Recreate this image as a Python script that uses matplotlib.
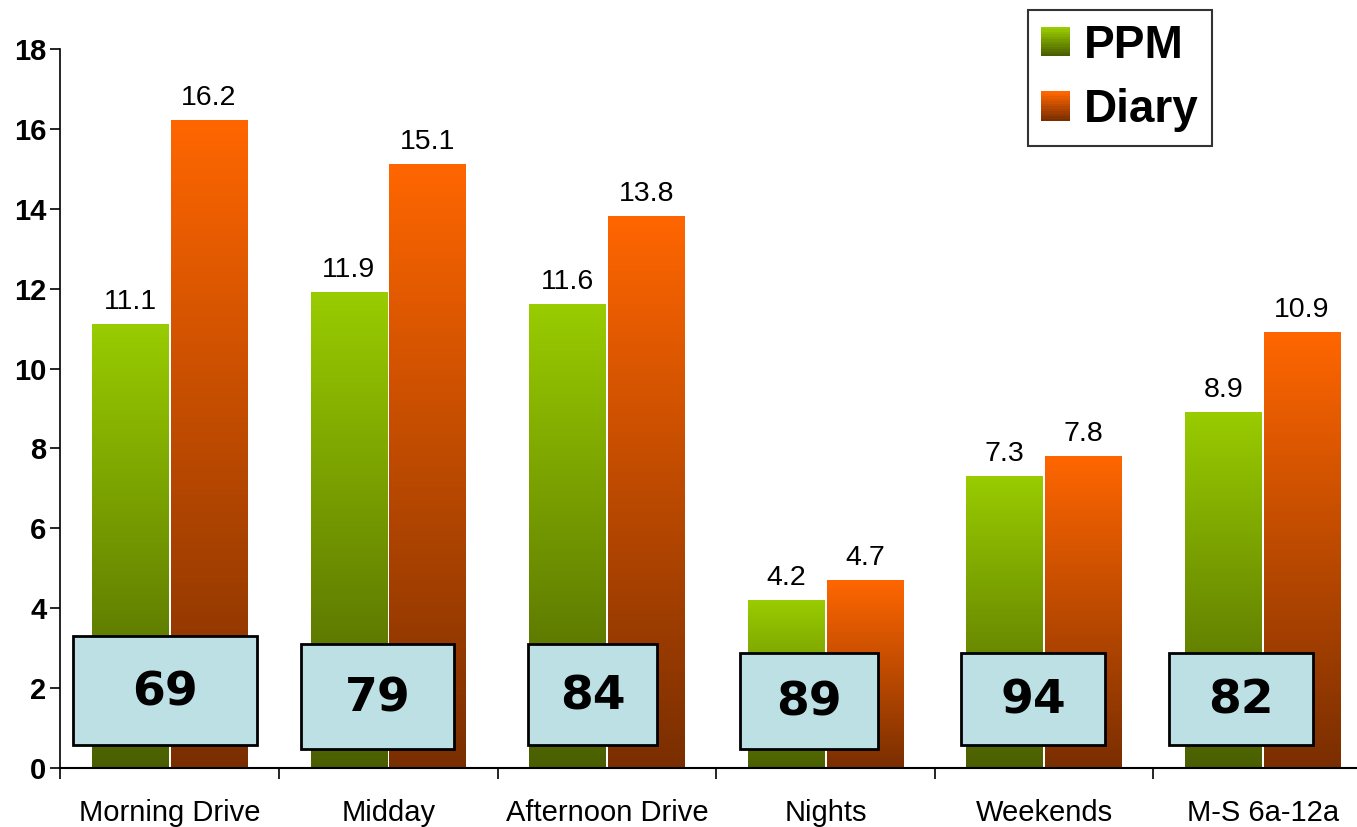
import matplotlib
matplotlib.use("Agg")
import matplotlib.pyplot as plt
import numpy as np
from matplotlib.colors import LinearSegmentedColormap
from matplotlib.legend_handler import HandlerBase
from matplotlib.patches import Rectangle

plt.rcParams["font.family"] = ["Liberation Sans", "DejaVu Sans"]

categories = ["Morning Drive", "Midday", "Afternoon Drive", "Nights", "Weekends", "M-S 6a-12a"]
ppm = [11.1, 11.9, 11.6, 4.2, 7.3, 8.9]
diary = [16.2, 15.1, 13.8, 4.7, 7.8, 10.9]
box_labels = ["69", "79", "84", "89", "94", "82"]

# box placement (x0, x1, y0, y1) in data units
box_pos = [
    (-0.44, 0.40, 0.58, 3.30),
    (0.60, 1.30, 0.48, 3.10),
    (1.64, 2.23, 0.58, 3.10),
    (2.61, 3.24, 0.48, 2.88),
    (3.62, 4.28, 0.58, 2.88),
    (4.57, 5.23, 0.58, 2.88),
]

green_cmap = LinearSegmentedColormap.from_list("g", ["#4A5E00", "#99CC00"])
orange_cmap = LinearSegmentedColormap.from_list("o", ["#7A2E00", "#FF6600"])
grad = np.linspace(0, 1, 256).reshape(-1, 1)


class GradientHandler(HandlerBase):
    def __init__(self, cmap):
        super().__init__()
        self.cmap = cmap

    def create_artists(self, legend, orig_handle, xdescent, ydescent,
                       width, height, fontsize, trans):
        n = 12
        arts = []
        for k in range(n):
            c = self.cmap(1 - k / (n - 1))
            r = Rectangle((-xdescent, -ydescent + height * (n - 1 - k) / n),
                          width, height / n, facecolor=c, edgecolor="none",
                          transform=trans)
            arts.append(r)
        return arts


def gradient_bars(ax, bars, cmap):
    for b in bars:
        x, y = b.get_x(), b.get_y()
        w, h = b.get_width(), b.get_height()
        ax.imshow(grad, extent=[x, x + w, y, y + h], origin="lower",
                  aspect="auto", cmap=cmap, zorder=2)


def main() -> None:
    fig = plt.figure(figsize=(13.57, 8.27), dpi=100)
    ax = fig.add_axes([0.0444, 0.0713, 0.9667, 0.8694])

    x = np.arange(len(categories))
    w = 0.36
    b1 = ax.bar(x - w / 2, ppm, w - 0.01, color="none", edgecolor="none")
    b2 = ax.bar(x + w / 2, diary, w - 0.01, color="none", edgecolor="none")
    gradient_bars(ax, b1, green_cmap)
    gradient_bars(ax, b2, orange_cmap)

    for xs, vals in [(x - w / 2, ppm), (x + w / 2, diary)]:
        for xi, v in zip(xs, vals):
            ax.annotate(f"{v:.1f}", (xi, v), xytext=(0, 7), textcoords="offset points",
                        ha="center", va="bottom", fontsize=20.5)

    for (x0, x1, y0, y1), lab in zip(box_pos, box_labels):
        ax.add_patch(Rectangle((x0, y0), x1 - x0, y1 - y0, facecolor="#BCE0E4",
                               edgecolor="black", linewidth=2, zorder=4))
        ax.text((x0 + x1) / 2, (y0 + y1) / 2 - 0.05, lab, ha="center", va="center",
                fontsize=34, fontweight="bold", family="DejaVu Sans", zorder=5)

    ax.set_xlim(-0.5, 5.5)
    ax.set_ylim(0, 18)
    ax.set_yticks(np.arange(0, 19, 2))
    ax.tick_params(axis="y", labelsize=21, length=7, width=1.2, pad=3)
    for t in ax.get_yticklabels():
        t.set_fontweight("bold")
    ax.set_xticks(x)
    ax.set_xticklabels(categories, fontsize=21)
    ax.set_xticks(np.arange(-0.5, 5.6, 1), minor=True)
    ax.tick_params(axis="x", which="major", length=0, pad=22)
    ax.tick_params(axis="x", which="minor", length=8, width=1.2)

    for s in ["top", "right"]:
        ax.spines[s].set_visible(False)
    ax.spines["left"].set_linewidth(1.2)
    ax.spines["bottom"].set_linewidth(1.5)

    h1 = Rectangle((0, 0), 1, 1)
    h2 = Rectangle((0, 0), 1, 1)
    leg = fig.legend([h1, h2], ["PPM", "Diary"], loc="upper right",
                     bbox_to_anchor=(0.8931, 0.9879),
                     handler_map={h1: GradientHandler(green_cmap), h2: GradientHandler(orange_cmap)},
                     prop={"size": 33, "weight": "bold"}, frameon=True, fancybox=False,
                     handlelength=0.62, handleheight=0.62, handletextpad=0.3,
                     labelspacing=0.45, borderpad=0.3, borderaxespad=0)
    leg.get_frame().set_edgecolor("black")
    leg.get_frame().set_linewidth(1.5)

    fig.savefig("out.png", dpi=100)
    plt.close(fig)


if __name__ == "__main__":
    main()
